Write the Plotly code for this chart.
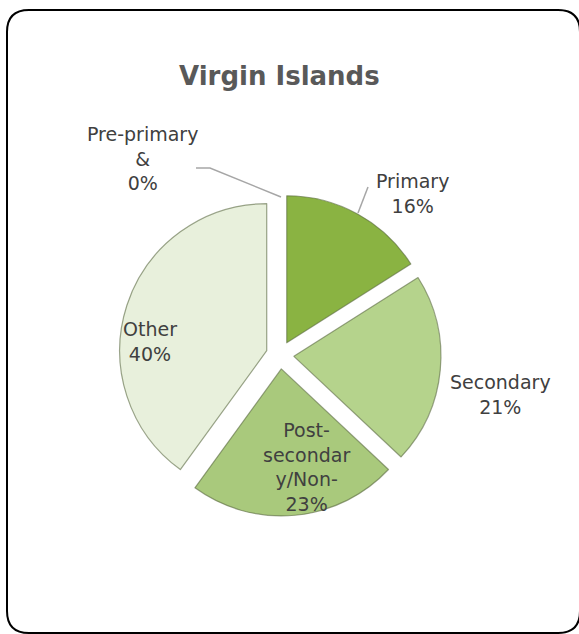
import plotly.graph_objects as go

# Education level shares, Virgin Islands
categories = ["Pre-primary &", "Primary", "Secondary", "Post-secondary/Non-", "Other"]
label_lines = ["Pre-primary<br>&", "Primary", "Secondary", "Post-<br>secondar<br>y/Non-", "Other"]
shares = [0, 16, 21, 23, 40]
colors = ["#6f9a2c", "#8ab342", "#b5d38c", "#a9c97c", "#e8f0dc"]

W, H = 579, 634


def px(x):
    return x / W


def py(y):
    return 1 - y / H


# pie centre and size in pixels
cx, cy, r, pull = 280, 355, 147, 0.095
ext = r * (1 + pull)

# no outline on empty slices
edge_widths = [1.2 if v > 0 else 0 for v in shares]

fig = go.Figure(go.Pie(
    labels=categories,
    values=shares,
    sort=False,
    direction="clockwise",
    rotation=0,
    pull=[pull] * len(shares),
    marker=dict(colors=colors, line=dict(color="rgba(90,105,65,0.6)", width=edge_widths)),
    textinfo="none",
    hoverinfo="label+percent",
    showlegend=False,
    domain=dict(x=[px(cx - ext), px(cx + ext)], y=[py(cy + ext), py(cy - ext)]),
))

# label placement (pixel centres of each text block)
label_pos = [(142, 158), (412, 193), (500, 394), (306, 467), (150, 341)]
annotations = []
for text, val, (lx, ly) in zip(label_lines, shares, label_pos):
    annotations.append(dict(
        x=px(lx), y=py(ly), xref="paper", yref="paper",
        text=f"{text}<br>{val}%", showarrow=False,
        font=dict(family="Verdana, DejaVu Sans, sans-serif", size=19, color="#404040"),
        align="center", xanchor="center", yanchor="middle",
    ))

annotations.append(dict(
    x=px(279), y=py(76), xref="paper", yref="paper",
    text="<b>Virgin Islands</b>", showarrow=False,
    font=dict(family="Verdana, DejaVu Sans, sans-serif", size=26, color="#595959"),
    xanchor="center", yanchor="middle",
))


def path(points):
    return "M " + " L ".join(f"{px(x)},{py(y)}" for x, y in points)


# rounded chart-area border
x0, y0, x1, y1, rad = 7, 10, 580, 633, 22
border = (
    f"M {px(x0 + rad)},{py(y0)} L {px(x1 - rad)},{py(y0)} "
    f"Q {px(x1)},{py(y0)} {px(x1)},{py(y0 + rad)} "
    f"L {px(x1)},{py(y1 - rad)} Q {px(x1)},{py(y1)} {px(x1 - rad)},{py(y1)} "
    f"L {px(x0 + rad)},{py(y1)} Q {px(x0)},{py(y1)} {px(x0)},{py(y1 - rad)} "
    f"L {px(x0)},{py(y0 + rad)} Q {px(x0)},{py(y0)} {px(x0 + rad)},{py(y0)} Z"
)

shapes = [
    dict(type="path", xref="paper", yref="paper", path=border,
         line=dict(color="black", width=2)),
    # leader lines
    dict(type="path", xref="paper", yref="paper",
         path=path([(196, 168), (210, 168), (281, 197)]),
         line=dict(color="#a6a6a6", width=1.5)),
    dict(type="path", xref="paper", yref="paper",
         path=path([(358, 213), (368, 187)]),
         line=dict(color="#a6a6a6", width=1.5)),
]

fig.update_layout(
    width=W, height=H,
    margin=dict(l=0, r=0, t=0, b=0),
    paper_bgcolor="white",
    plot_bgcolor="white",
    annotations=annotations,
    shapes=shapes,
)

fig.write_html("out.html")
